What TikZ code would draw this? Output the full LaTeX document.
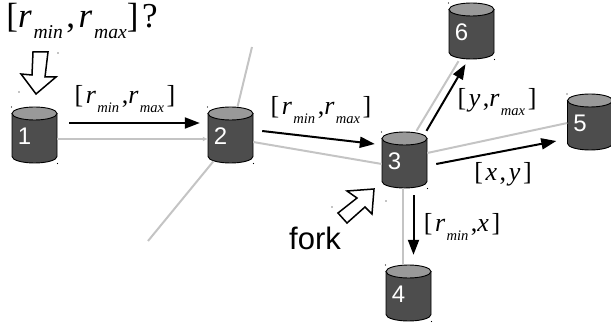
\documentclass[tikz,border=0pt]{standalone}
\usepackage{xcolor}
\usepackage{fontspec}
\setmainfont{Liberation Serif}
\setsansfont{Liberation Sans}
\usetikzlibrary{shapes,arrows.meta,positioning}

\definecolor{drumbody}{HTML}{4D4D4D}
\definecolor{drumtop}{HTML}{999999}
\definecolor{linkgray}{HTML}{C4C4C4}
\newcommand{\subtext}[1]{\kern0.05em\raisebox{-0.32em}{\scalebox{0.56}{\textit{#1}}}}
\newcommand{\rmin}{\textit{r}\subtext{min}}
\newcommand{\rmax}{\textit{r}\subtext{max}}
\newcommand{\gap}{\kern0.1em}

\tikzset{
  drumbox/.style={minimum width=45pt, minimum height=56pt, inner sep=0pt},
  drumline/.style={draw=black, line width=0.9pt},
  drumtext/.style={text=white, font=\sffamily\fontsize{24}{24}\selectfont, xshift=-10pt, yshift=-1pt},
  link/.style={linkgray, line width=2pt},
  flow/.style={black, line width=2pt, -{Triangle[length=15pt,width=11pt]}},
  rangetext/.style={font=\fontsize{26}{26}\selectfont, inner sep=0pt},
  hollow/.style={draw=black, fill=white, line width=1.5pt, line join=miter}
}

% name, position, digit
\newcommand{\drum}[3]{
  \begin{scope}[shift={(#2)}]
    \path[drumline, fill=drumbody] (-22.5,-21.5) -- (-22.5,21.5)
      arc[start angle=180, end angle=0, x radius=22.5, y radius=6.5] -- (22.5,-21.5) -- cycle;
    \path[drumline, fill=drumtop] (0,-21.5) ellipse [x radius=22.5, y radius=6.5];
    \fill (-23,-28) circle (0.6);
    \fill (23,28.5) circle (0.6);
  \end{scope}
  \node[drumbox, label={[drumtext]center:#3}] (#1) at (#2) {};
}

\begin{document}
\begin{tikzpicture}[x=1pt,y=-1pt]
\useasboundingbox (0,0) rectangle (611,323);

% Free ends of the gray links
\coordinate (up) at (252,47);
\coordinate (down) at (148,241);

% Drums
\drum{n1}{34.5,135}{1}
\drum{n2}{230.5,135}{2}
\drum{n3}{404.5,160}{3}
\drum{n4}{408.5,293}{4}
\drum{n5}{590,122}{5}
\drum{n6}{471.5,31}{6}

% Gray links
\draw[link, -{Latex[length=5pt,width=5pt]}] ([yshift=-4pt]n1.east) -- ([yshift=-4pt]n2.west);
\draw[link] ([yshift=-7pt]n2.east) -- ([yshift=-4pt]n3.west);
\draw[link] ([xshift=7pt]n2.north) -- (up);
\draw[link] ([xshift=-17pt,yshift=2pt]n2.south) -- (down);
\draw[link] ([xshift=12pt,yshift=1pt]n3.north) -- ([xshift=-13pt,yshift=-2pt]n6.south);
\draw[link] ([yshift=7pt]n3.east) -- ([yshift=-1pt]n5.west);
\draw[link] ([xshift=-2pt]n3.south) -- ([xshift=-6pt]n4.north);

% Black arrows
\draw[flow] ([xshift=12pt,yshift=12pt]n1.east) -- ([xshift=-8pt,yshift=12pt]n2.west);
\draw[flow] ([xshift=9pt,yshift=4pt]n2.east) -- ([xshift=-7pt,yshift=16pt]n3.west);
\draw[flow] ([xshift=22pt,yshift=1pt]n3.north) -- ([xshift=-6pt,yshift=-5pt]n6.south);
\draw[flow] ([xshift=9pt,yshift=-4pt]n3.east) -- ([xshift=-11pt,yshift=-19pt]n5.west);
\draw[flow] ([xshift=9pt,yshift=-7pt]n3.south) -- ([xshift=5pt,yshift=10pt]n4.north);

% Hollow arrows
\draw[hollow] (33,52) -- (48,52) -- (45,77) -- (56,77) -- (36,94) -- (21,74) -- (32,75) -- cycle;
\draw[hollow] (374,189) -- (347,191) -- (357,198) -- (338,213) -- (347,223) -- (365,207) -- (372,214) -- cycle;
\foreach \p in {(58,53),(19,92),(332,207),(386,201)}
  \fill \p circle (0.6);

% Labels
\node[rangetext, font=\fontsize{35}{35}\selectfont] (query) at (82,21) {[\rmin\gap,\gap\rmax]\gap?};
\node[rangetext] (range12) at (125,99) {[\gap\rmin\gap,\rmax\gap]};
\node[rangetext] (range23) at (321,110) {[\gap\rmin\gap,\rmax\gap]};
\node[rangetext] (range36) at (497,102) {[\gap\textit{y}\gap,\rmax\gap]};
\node[rangetext] (range35) at (503,174) {[\gap\textit{x}\gap,\gap\textit{y}\gap]};
\node[rangetext] (range34) at (462,227) {[\gap\rmin\gap,\textit{x}\gap]};
\node[font=\sffamily\fontsize{31}{31}\selectfont, inner sep=0pt] (fork) at (315,238) {fork};
\end{tikzpicture}
\end{document}
